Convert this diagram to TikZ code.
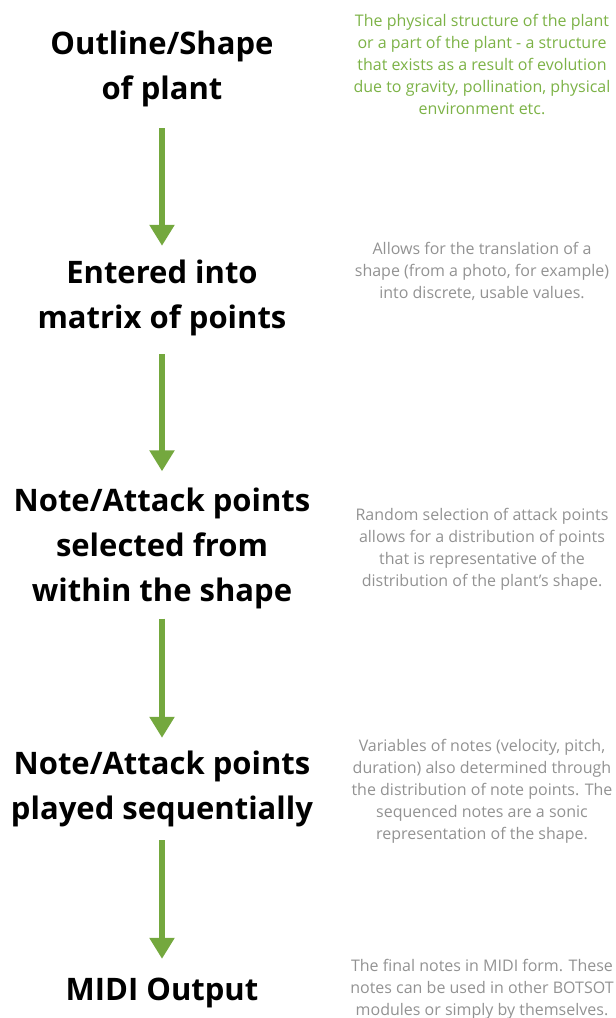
\documentclass[tikz,border=0pt]{standalone}
\usepackage{fontspec}
\setmainfont{Open Sans}
\usetikzlibrary{arrows.meta}
\usetikzlibrary{positioning}

\definecolor{stemgreen}{RGB}{116,168,62}
\definecolor{leafgreen}{RGB}{124,178,70}
\definecolor{notegray}{RGB}{146,146,146}

\tikzset{
  stage/.style={align=center, inner sep=0pt, font=\bfseries\fontsize{31}{45}\selectfont},
  remark/.style={align=center, inner sep=0pt, text=notegray, font=\fontsize{16}{22}\selectfont},
  flow/.style={-{Triangle[width=24pt,length=21pt]}, stemgreen, line width=5.5pt, shorten <=21pt, shorten >=14pt}
}

\begin{document}
\begin{tikzpicture}[x=1pt, y=-1pt]
            \useasboundingbox (0,0) rectangle (616,1018);

            % Stages
            \node[stage] (outline) at (162,69) {Outline/Shape\\of plant};
            \node[stage] (matrix) at (162,298) {Entered into\\matrix of points};
            \node[stage] (select) at (162,548) {Note/Attack points\\selected from\\within the shape};
            \node[stage] (play) at (162,789) {Note/Attack points\\played sequentially};
            \node[stage] (midi) at (162,993) {MIDI Output};

            % Arrows between stages
            \draw[flow] (outline) -- (matrix);
            \draw[flow, shorten <=18pt, shorten >=16pt] (matrix) -- (select);
            \draw[flow, shorten <=10pt, shorten >=13pt] (select) -- (play);
            \draw[flow, shorten <=13pt, shorten >=19pt] (play) -- (midi);

            % Remarks
            \node[remark, text=leafgreen] (outlinenote) at (482,64) {The physical structure of the plant\\or a part of the plant - a structure\\that exists as a result of evolution\\due to gravity, pollination, physical\\environment etc.};
            \node[remark] (matrixnote) at (482,271) {Allows for the translation of a\\shape (from a photo, for example)\\into discrete, usable values.};
            \node[remark] (selectnote) at (482,549) {Random selection of attack points\\allows for a distribution of points\\that is representative of the\\distribution of the plant’s shape.};
            \node[remark] (playnote) at (482,791) {Variables of notes (velocity, pitch,\\duration) also determined through\\the distribution of note points. The\\sequenced notes are a sonic\\representation of the shape.};
            \node[remark] (midinote) at (482,989) {The final notes in MIDI form. These\\notes can be used in other BOTSOT\\modules or simply by themselves.};

\end{tikzpicture}
\end{document}
